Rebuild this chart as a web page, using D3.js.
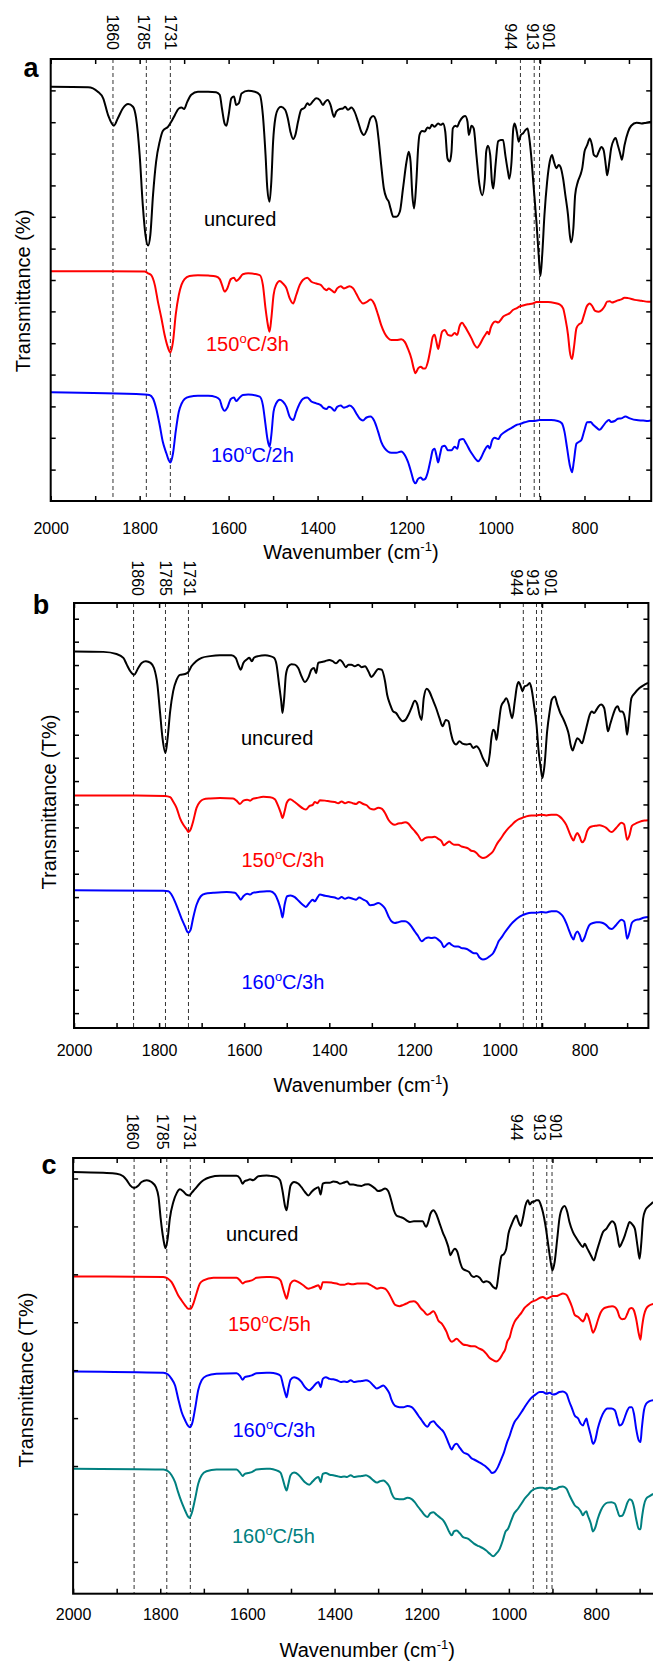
<!DOCTYPE html>
<html lang="en">
<head>
<meta charset="UTF-8">
<title>FTIR spectra</title>
<script src="https://cdn.jsdelivr.net/npm/d3@7/dist/d3.min.js"></script>
<style>
  body { margin: 0; background: #fff; }
  svg { display: block; }
</style>
</head>
<body>
<script>

// peak markers and x ticks (wavenumber, cm-1)
var peaks = [1860, 1785, 1731, 944, 913, 901]
var xMajor = [2000, 1800, 1600, 1400, 1200, 1000, 800]
var xMinor = [1900, 1700, 1500, 1300, 1100, 900, 700]

// unlabeled y ticks (relative transmittance, 0 = bottom, 100 = top of frame)
var yTicksA = [7.1, 14.3, 21.4, 28.6, 35.7, 42.9, 50, 57.1, 64.3, 71.4, 78.6, 85.7, 92.9]
var yTicksB = [3.5, 9.0, 14.4, 19.9, 25.3, 30.8, 36.3, 41.7, 47.2, 52.6, 58.1, 63.6, 69.0, 74.5, 79.9, 85.4, 90.9, 96.3]
var yTicksC = [7.3, 18.3, 29.3, 40.3, 51.3, 62.3, 73.3, 84.3, 95.3]

var labelsA = ["uncured", "150°C/3h", "160°C/2h"]
var labelsB = ["uncured", "150°C/3h", "160°C/3h"]
var labelsC = ["uncured", "150°C/5h", "160°C/3h", "160°C/5h"]

// panel a spectra [wavenumber, T]
var aUncured = [[2000,93.7],[1916,93.6],[1894,92.6],[1882,91.1],[1871,87.3],[1858,84.9],[1849,86.6],[1838,88.8],[1826,89.8],[1815,89.2],[1808,86.6],[1800,78.3],[1793,67.0],[1787,60.2],[1781,57.8],[1776,60.2],[1770,69.2],[1763,76.8],[1755,81.3],[1748,83.7],[1736,84.7],[1729,85.8],[1721,87.3],[1712,88.8],[1706,89.0],[1700,88.7],[1693,90.3],[1684,91.9],[1669,92.6],[1646,92.6],[1628,92.5],[1620,91.9],[1615,88.8],[1609,85.4],[1605,84.9],[1600,87.3],[1594,91.1],[1588,91.5],[1583,89.6],[1577,90.0],[1571,92.2],[1556,92.8],[1541,92.6],[1530,91.9],[1523,87.3],[1517,78.3],[1513,70.7],[1508,67.7],[1504,72.3],[1500,81.3],[1495,86.6],[1488,88.8],[1482,89.2],[1473,88.5],[1467,86.6],[1461,83.5],[1455,81.9],[1450,82.8],[1444,85.8],[1437,88.5],[1429,89.0],[1423,90.0],[1418,89.6],[1410,90.5],[1403,91.1],[1395,90.7],[1388,89.6],[1383,90.3],[1377,90.7],[1371,89.6],[1363,86.9],[1358,88.1],[1350,88.7],[1343,88.8],[1338,89.2],[1332,88.5],[1324,89.0],[1317,88.1],[1309,85.8],[1302,83.6],[1296,82.8],[1288,84.3],[1281,86.6],[1275,87.1],[1268,85.8],[1263,82.0],[1257,76.0],[1251,70.7],[1245,68.5],[1240,67.7],[1236,66.2],[1230,64.3],[1223,64.3],[1215,65.5],[1208,70.7],[1200,76.8],[1195,79.0],[1191,76.8],[1187,69.2],[1183,66.2],[1178,72.2],[1174,79.8],[1171,82.8],[1165,83.7],[1159,83.6],[1153,84.5],[1148,84.3],[1143,85.1],[1137,84.7],[1129,85.4],[1123,85.1],[1118,85.4],[1113,83.6],[1108,77.5],[1103,76.8],[1099,79.0],[1096,84.3],[1090,84.9],[1086,84.7],[1081,85.8],[1073,86.9],[1068,87.1],[1063,85.8],[1060,82.8],[1054,84.9],[1049,84.3],[1043,78.3],[1036,71.5],[1030,69.2],[1024,73.0],[1021,79.0],[1017,80.4],[1012,78.3],[1008,72.2],[1005,70.7],[1000,76.0],[994,81.4],[988,81.7],[983,81.7],[978,78.3],[972,74.5],[969,72.9],[964,76.8],[960,84.3],[957,85.4],[952,83.5],[948,81.3],[943,82.8],[938,83.2],[933,83.9],[928,84.3],[925,82.8],[920,78.3],[914,70.7],[908,63.2],[903,55.7],[899,50.9],[895,55.7],[890,64.7],[884,72.2],[878,76.8],[873,78.3],[869,76.9],[863,75.3],[858,76.0],[854,75.6],[848,72.9],[843,69.2],[837,64.7],[833,60.2],[830,58.5],[825,61.7],[821,69.2],[815,72.2],[809,73.8],[805,75.3],[800,79.0],[794,80.5],[788,82.0],[783,80.5],[779,78.3],[773,77.9],[768,79.0],[762,80.1],[757,79.4],[752,75.9],[749,73.7],[744,76.8],[740,79.8],[734,81.7],[730,82.1],[725,80.5],[719,78.3],[716,77.2],[710,80.5],[702,83.5],[695,84.9],[683,85.6],[672,85.4],[661,85.6],[650,85.8]]
var a150_3h = [[2000,52.0],[1894,52.0],[1789,51.9],[1781,51.5],[1774,51.1],[1766,48.9],[1759,45.1],[1751,41.3],[1744,37.6],[1736,34.6],[1731,33.6],[1725,36.1],[1719,42.1],[1712,46.6],[1706,48.9],[1699,50.2],[1688,50.9],[1669,51.1],[1646,51.0],[1628,50.8],[1620,50.2],[1615,48.9],[1609,47.4],[1603,48.1],[1595,50.2],[1588,50.5],[1583,49.8],[1577,50.2],[1568,51.3],[1556,51.5],[1530,51.1],[1523,48.9],[1517,43.5],[1513,40.6],[1508,38.3],[1504,41.3],[1499,46.6],[1493,48.9],[1485,49.8],[1478,49.2],[1470,48.1],[1463,45.9],[1455,44.7],[1448,46.6],[1440,48.9],[1433,50.0],[1423,50.5],[1414,49.6],[1403,49.2],[1393,48.9],[1386,48.1],[1380,47.7],[1375,48.1],[1369,47.7],[1362,47.2],[1356,48.1],[1348,48.6],[1341,48.1],[1335,48.3],[1328,48.6],[1320,48.1],[1313,46.9],[1305,45.4],[1298,44.7],[1290,45.0],[1281,45.6],[1273,44.7],[1264,42.1],[1257,39.8],[1249,37.9],[1242,36.9],[1234,36.4],[1223,36.4],[1212,36.6],[1204,36.0],[1197,34.5],[1189,32.2],[1184,30.0],[1180,28.9],[1174,30.0],[1168,30.4],[1163,30.0],[1158,30.0],[1152,31.5],[1146,34.5],[1141,37.2],[1137,37.6],[1133,36.1],[1129,34.4],[1125,36.1],[1120,38.3],[1114,38.7],[1107,37.6],[1099,37.4],[1092,38.0],[1086,37.6],[1081,39.5],[1075,40.3],[1069,39.5],[1062,38.3],[1054,36.8],[1047,35.3],[1041,34.7],[1036,35.3],[1028,36.8],[1023,37.6],[1018,38.3],[1015,37.7],[1011,39.1],[1006,40.2],[1000,40.6],[994,40.4],[988,41.0],[983,41.7],[976,42.1],[968,42.5],[961,43.2],[953,43.6],[946,44.0],[936,44.3],[927,44.5],[916,44.7],[908,45.0],[897,45.0],[882,45.0],[867,44.8],[856,44.5],[848,43.6],[843,41.3],[837,37.6],[833,33.8],[828,32.1],[824,34.5],[818,39.1],[812,40.0],[807,40.3],[801,42.1],[795,44.0],[788,44.7],[782,44.0],[776,43.0],[768,42.8],[761,43.2],[755,44.0],[749,45.1],[743,45.2],[738,44.9],[732,45.1],[725,45.4],[717,45.6],[710,46.0],[702,45.9],[687,45.5],[672,45.3],[657,45.1],[650,45.1]]
var a160_2h = [[2000,24.6],[1789,24.1],[1778,24.0],[1770,23.2],[1763,21.0],[1755,17.2],[1748,13.4],[1740,10.8],[1735,9.3],[1731,8.7],[1725,10.8],[1719,15.7],[1712,20.2],[1706,22.0],[1699,23.1],[1688,23.6],[1669,23.8],[1646,23.8],[1628,23.5],[1620,22.9],[1615,21.3],[1609,20.4],[1603,21.1],[1595,23.1],[1588,23.4],[1583,22.6],[1577,23.2],[1568,24.0],[1556,24.1],[1530,23.6],[1523,21.7],[1517,17.2],[1513,14.2],[1508,12.3],[1504,14.9],[1499,20.2],[1493,22.1],[1485,22.9],[1478,22.5],[1470,21.3],[1463,19.1],[1455,18.3],[1448,20.2],[1440,22.1],[1433,23.1],[1423,23.4],[1414,22.5],[1403,22.1],[1393,21.7],[1386,21.0],[1380,20.8],[1375,21.3],[1369,21.1],[1362,20.4],[1356,21.3],[1348,21.6],[1341,21.1],[1335,21.3],[1328,21.6],[1320,21.0],[1313,19.8],[1305,18.6],[1298,18.2],[1290,18.9],[1281,19.1],[1273,18.2],[1264,15.7],[1257,13.4],[1249,11.9],[1242,11.2],[1234,10.9],[1223,10.9],[1212,11.2],[1204,10.4],[1197,8.9],[1189,6.3],[1184,4.5],[1180,4.0],[1174,5.0],[1168,5.3],[1163,4.8],[1158,5.0],[1152,6.6],[1146,9.3],[1141,11.5],[1137,11.8],[1133,10.4],[1129,8.7],[1125,10.4],[1120,12.3],[1114,12.5],[1107,11.5],[1099,11.5],[1092,12.3],[1086,11.8],[1081,13.8],[1073,14.0],[1066,13.0],[1058,11.5],[1051,10.4],[1043,9.3],[1039,9.0],[1033,9.7],[1026,11.2],[1021,12.1],[1017,12.5],[1013,11.9],[1008,13.6],[1002,14.3],[994,14.0],[988,14.9],[981,15.5],[972,16.1],[963,16.6],[953,17.2],[946,17.4],[934,17.8],[923,18.1],[912,18.1],[901,18.3],[890,18.3],[875,18.3],[860,18.1],[851,17.6],[845,15.7],[839,11.9],[833,8.1],[828,6.5],[824,8.9],[818,13.0],[812,13.4],[807,13.8],[800,16.1],[794,17.8],[786,17.9],[781,17.3],[773,16.6],[766,16.1],[758,17.0],[751,17.9],[745,18.3],[740,17.9],[732,18.1],[725,18.6],[717,18.7],[708,19.1],[698,18.7],[683,18.3],[668,18.2],[657,18.1],[650,18.2]]

// panel b spectra
var bUncured = [[2000,88.6],[1931,88.5],[1900,88.0],[1884,87.1],[1876,85.5],[1868,84.0],[1859,83.1],[1849,84.7],[1841,85.9],[1831,86.3],[1820,85.9],[1812,84.7],[1804,80.8],[1798,74.5],[1792,68.2],[1785,64.7],[1780,68.2],[1774,74.5],[1767,79.2],[1759,81.9],[1751,83.1],[1739,83.3],[1731,83.8],[1724,85.1],[1713,86.3],[1700,87.1],[1680,87.5],[1657,87.7],[1630,87.7],[1620,87.1],[1614,85.5],[1608,84.3],[1602,85.9],[1594,86.7],[1588,87.1],[1582,86.3],[1577,87.1],[1567,87.5],[1551,87.7],[1539,87.5],[1530,87.1],[1524,85.5],[1518,80.8],[1513,76.9],[1510,74.1],[1506,77.6],[1502,83.1],[1496,85.1],[1489,85.6],[1481,85.5],[1473,84.7],[1465,82.7],[1457,81.4],[1449,82.5],[1442,84.3],[1436,84.7],[1431,83.5],[1426,85.9],[1418,86.1],[1410,86.3],[1400,86.6],[1392,86.3],[1384,85.8],[1375,86.6],[1369,86.1],[1361,84.9],[1355,85.5],[1348,85.5],[1340,85.1],[1332,85.5],[1324,84.9],[1316,85.1],[1308,83.9],[1301,82.6],[1293,83.5],[1285,84.5],[1277,84.3],[1269,81.6],[1264,78.4],[1257,76.1],[1250,74.5],[1243,74.1],[1235,72.9],[1228,72.2],[1221,72.5],[1214,73.7],[1207,75.3],[1199,77.0],[1193,76.1],[1188,73.7],[1183,72.5],[1178,77.6],[1171,79.8],[1165,79.2],[1157,77.3],[1149,75.3],[1141,72.9],[1134,71.0],[1126,72.5],[1120,72.2],[1115,69.8],[1109,67.5],[1102,66.7],[1094,67.5],[1087,66.9],[1077,66.7],[1069,66.9],[1062,65.9],[1054,66.3],[1047,65.5],[1039,63.5],[1033,62.4],[1029,61.6],[1023,64.3],[1019,68.2],[1015,70.2],[1011,69.8],[1007,67.8],[1002,71.4],[996,75.7],[989,76.9],[984,77.6],[978,76.1],[974,74.1],[970,72.9],[964,76.9],[959,80.4],[955,81.4],[950,80.4],[946,79.2],[941,80.4],[935,80.6],[929,81.2],[925,80.0],[919,76.1],[913,71.4],[908,65.1],[903,61.2],[899,58.8],[894,62.0],[888,69.8],[882,74.5],[877,77.3],[870,78.0],[864,76.1],[857,74.1],[851,72.9],[843,71.0],[837,69.0],[833,66.7],[828,65.3],[823,66.7],[817,68.2],[812,67.8],[806,67.0],[800,69.0],[794,71.4],[788,73.7],[783,74.5],[778,74.1],[772,74.9],[767,75.7],[761,76.1],[754,75.3],[749,72.2],[745,69.8],[740,71.4],[733,73.7],[727,75.3],[722,75.7],[717,74.5],[712,74.5],[707,73.7],[704,72.2],[700,69.0],[696,72.2],[690,77.6],[682,78.8],[671,80.0],[659,80.8],[651,81.2]]
var b150_3h = [[2000,54.7],[1853,54.7],[1786,54.6],[1774,54.3],[1767,53.3],[1759,51.8],[1751,49.4],[1743,47.8],[1735,46.7],[1731,46.1],[1726,46.7],[1720,48.6],[1712,51.8],[1704,53.2],[1696,53.8],[1680,54.0],[1657,54.1],[1626,54.0],[1618,53.5],[1610,52.7],[1602,53.5],[1593,53.7],[1586,53.5],[1580,53.9],[1571,54.1],[1555,54.4],[1539,54.3],[1528,53.8],[1520,52.2],[1514,50.6],[1510,49.4],[1505,51.0],[1500,53.0],[1492,53.8],[1483,53.3],[1473,52.5],[1461,51.6],[1455,51.4],[1447,52.2],[1439,52.5],[1434,53.2],[1428,52.9],[1422,53.6],[1410,53.5],[1398,53.3],[1387,53.2],[1379,52.9],[1371,53.3],[1363,52.9],[1355,53.2],[1345,52.9],[1337,52.7],[1330,53.2],[1320,52.7],[1312,52.4],[1304,51.6],[1295,51.4],[1285,51.8],[1277,51.6],[1269,50.6],[1261,49.0],[1254,48.2],[1246,47.8],[1238,48.1],[1230,48.2],[1222,48.4],[1214,48.1],[1207,47.2],[1199,46.3],[1191,45.3],[1183,44.1],[1175,44.7],[1167,44.9],[1160,44.9],[1152,45.0],[1144,44.5],[1136,43.9],[1131,43.0],[1124,43.5],[1118,43.9],[1113,43.5],[1105,43.1],[1097,43.1],[1089,42.7],[1081,42.5],[1073,42.2],[1066,41.7],[1060,41.6],[1054,41.2],[1047,40.4],[1039,40.0],[1031,40.2],[1023,40.8],[1015,41.6],[1007,43.1],[1002,43.9],[996,44.7],[988,45.9],[980,46.9],[972,47.7],[964,48.5],[957,49.0],[947,49.4],[937,49.8],[925,50.0],[913,50.0],[902,50.2],[890,50.0],[878,50.2],[866,50.2],[859,49.8],[851,49.0],[843,47.8],[837,46.3],[831,44.9],[826,44.1],[822,45.1],[817,45.9],[812,45.1],[806,43.7],[800,44.3],[794,46.3],[788,47.2],[780,47.5],[772,47.6],[765,47.7],[757,47.5],[749,47.1],[741,46.3],[736,46.1],[729,46.7],[722,47.5],[714,48.3],[707,47.9],[704,46.3],[700,44.3],[694,45.5],[689,47.5],[682,48.0],[671,48.5],[659,48.8],[651,48.9]]
var b160_3h = [[2000,32.4],[1790,32.3],[1778,32.2],[1771,31.4],[1763,29.8],[1755,27.8],[1747,25.7],[1739,23.9],[1734,22.7],[1731,22.5],[1726,23.1],[1720,25.9],[1712,29.0],[1702,31.0],[1692,31.6],[1673,31.8],[1641,32.0],[1622,31.8],[1614,31.0],[1608,30.2],[1602,31.0],[1593,31.6],[1586,31.4],[1580,31.8],[1567,32.0],[1547,32.2],[1539,32.2],[1528,31.5],[1520,29.8],[1514,27.8],[1510,26.0],[1505,29.0],[1499,31.0],[1491,31.2],[1481,30.8],[1471,29.8],[1461,28.9],[1455,28.5],[1447,29.4],[1439,30.2],[1434,29.8],[1428,30.7],[1422,31.4],[1410,31.1],[1398,30.9],[1387,30.7],[1379,30.4],[1371,30.8],[1363,30.4],[1355,30.7],[1345,30.4],[1337,30.2],[1330,30.7],[1320,30.2],[1312,29.8],[1304,28.9],[1295,29.0],[1285,29.4],[1277,29.0],[1269,28.1],[1261,26.3],[1254,25.1],[1246,24.7],[1238,24.9],[1230,25.1],[1222,25.1],[1214,24.7],[1207,23.9],[1199,22.7],[1191,21.6],[1183,20.4],[1175,21.0],[1167,21.3],[1160,21.2],[1152,21.3],[1144,20.8],[1136,20.0],[1131,19.0],[1124,19.6],[1118,20.0],[1113,19.6],[1105,19.2],[1097,19.2],[1089,18.8],[1081,18.7],[1073,18.4],[1066,17.9],[1060,17.6],[1054,17.6],[1047,16.6],[1039,16.1],[1031,16.3],[1023,16.9],[1015,17.6],[1007,19.2],[1002,20.4],[996,21.2],[988,22.4],[980,23.5],[972,24.5],[964,25.3],[957,25.9],[947,26.5],[937,26.9],[925,27.1],[913,27.1],[902,27.3],[890,27.2],[878,27.5],[866,27.5],[859,27.1],[851,26.3],[843,24.7],[837,23.1],[831,21.6],[826,20.8],[822,22.0],[817,22.7],[812,22.0],[806,20.4],[800,21.3],[794,23.1],[788,24.3],[780,24.7],[772,24.9],[765,24.9],[757,24.7],[749,24.2],[741,23.4],[736,23.3],[729,23.9],[722,24.7],[714,25.5],[707,25.1],[704,23.5],[700,21.0],[694,22.7],[689,24.7],[682,25.3],[671,25.6],[659,26.0],[651,26.1]]

// panel c spectra
var cUncured = [[2000,96.8],[1931,96.6],[1900,96.4],[1885,95.8],[1877,94.9],[1869,93.7],[1860,93.1],[1850,93.7],[1843,94.5],[1831,94.9],[1820,94.5],[1810,93.3],[1804,91.1],[1799,86.1],[1793,81.5],[1788,79.3],[1783,81.5],[1778,86.1],[1770,89.9],[1762,92.0],[1755,92.8],[1747,92.3],[1740,91.6],[1733,91.4],[1728,92.0],[1720,92.9],[1710,94.1],[1701,94.9],[1686,95.6],[1663,95.9],[1625,95.9],[1617,95.3],[1611,94.1],[1606,94.7],[1600,94.9],[1594,95.1],[1587,94.9],[1575,95.8],[1556,96.0],[1548,95.9],[1533,95.6],[1525,94.9],[1519,92.2],[1514,89.1],[1510,88.0],[1506,90.6],[1501,93.7],[1493,94.5],[1483,94.1],[1476,93.3],[1468,92.2],[1460,91.4],[1453,92.2],[1445,92.9],[1437,93.3],[1432,91.6],[1427,94.1],[1420,94.3],[1411,94.3],[1403,94.6],[1395,94.5],[1388,94.1],[1380,94.3],[1371,94.6],[1365,93.9],[1357,93.9],[1348,93.7],[1338,93.6],[1330,93.9],[1323,94.0],[1315,93.6],[1307,93.0],[1300,92.4],[1292,92.6],[1284,93.0],[1277,92.4],[1269,89.9],[1264,88.0],[1258,86.8],[1250,86.5],[1242,86.2],[1235,85.7],[1227,85.3],[1218,85.5],[1208,85.5],[1198,85.5],[1190,84.2],[1185,85.3],[1180,87.2],[1173,88.0],[1167,87.2],[1160,85.3],[1152,83.0],[1144,81.1],[1139,79.6],[1134,77.7],[1129,78.6],[1124,79.2],[1118,78.4],[1112,76.1],[1106,74.6],[1099,74.2],[1091,73.8],[1086,73.0],[1080,72.7],[1075,72.9],[1067,72.5],[1059,71.5],[1052,71.7],[1044,71.4],[1036,70.4],[1029,70.0],[1025,72.3],[1021,75.4],[1017,77.5],[1011,78.0],[1006,79.2],[1001,82.6],[994,84.7],[988,86.1],[983,86.8],[979,85.7],[973,84.4],[968,86.1],[962,89.1],[956,90.3],[952,89.3],[947,89.9],[942,90.0],[937,90.3],[932,90.3],[927,89.3],[922,87.6],[916,84.5],[910,80.3],[904,76.1],[900,74.2],[895,76.1],[889,81.5],[884,86.1],[878,88.4],[872,89.0],[866,87.6],[861,85.3],[853,83.0],[845,81.6],[838,80.5],[830,79.6],[826,80.3],[820,79.2],[812,77.7],[805,76.5],[799,78.4],[792,80.7],[784,83.0],[776,83.8],[769,84.9],[763,85.5],[757,84.9],[751,82.2],[746,79.6],[740,80.7],[734,82.2],[728,84.1],[723,85.3],[718,84.9],[711,83.8],[705,79.9],[700,76.9],[696,80.7],[692,86.1],[687,88.0],[681,88.8],[673,89.5],[669,89.9]]
var c150_5h = [[2000,72.8],[1793,72.7],[1782,72.3],[1774,71.5],[1766,70.0],[1759,68.5],[1751,67.3],[1743,66.2],[1736,65.4],[1730,65.4],[1724,66.6],[1716,69.2],[1709,71.2],[1701,71.9],[1678,72.5],[1625,72.5],[1617,71.9],[1611,71.2],[1606,71.5],[1598,71.7],[1590,71.9],[1579,72.5],[1556,72.7],[1548,72.7],[1533,72.5],[1524,71.9],[1518,70.0],[1512,68.1],[1510,67.7],[1506,69.2],[1501,71.2],[1493,71.9],[1483,71.5],[1472,70.8],[1460,70.0],[1453,70.2],[1445,70.5],[1437,70.8],[1432,69.9],[1427,71.5],[1418,71.5],[1407,71.4],[1395,71.2],[1386,70.9],[1378,70.9],[1369,71.2],[1359,71.0],[1348,71.2],[1338,71.2],[1326,71.2],[1317,70.8],[1310,70.4],[1302,70.0],[1294,70.2],[1284,70.0],[1277,69.2],[1269,67.7],[1261,66.3],[1251,66.0],[1242,66.3],[1235,66.6],[1227,67.0],[1218,67.1],[1210,66.6],[1203,65.6],[1195,64.8],[1187,64.0],[1181,64.3],[1173,64.8],[1167,63.9],[1162,62.7],[1154,62.0],[1149,61.2],[1143,60.1],[1137,58.5],[1131,57.8],[1126,58.1],[1120,58.5],[1112,57.8],[1105,57.2],[1095,57.0],[1086,56.8],[1079,56.8],[1069,56.3],[1059,55.8],[1052,55.1],[1044,54.1],[1036,53.6],[1029,53.3],[1021,53.9],[1014,55.1],[1008,56.2],[1004,57.8],[998,58.9],[993,60.8],[987,62.4],[979,63.5],[971,64.5],[964,65.6],[956,66.3],[949,66.9],[939,67.3],[929,67.9],[922,68.1],[914,67.7],[906,68.0],[899,68.3],[891,68.3],[884,68.6],[876,68.9],[868,68.6],[861,67.3],[855,65.8],[849,64.0],[841,63.5],[835,62.9],[830,62.5],[826,63.1],[822,64.3],[819,63.9],[812,61.6],[807,59.9],[802,60.8],[796,62.7],[789,64.6],[782,65.5],[773,65.8],[763,66.0],[757,65.8],[751,65.0],[746,63.5],[740,63.0],[734,63.1],[728,64.3],[723,65.4],[718,65.6],[713,65.0],[708,63.1],[702,59.7],[698,58.3],[695,60.8],[690,63.9],[685,65.4],[677,66.2],[669,66.5]]
var c160_3h = [[2000,51.0],[1793,50.7],[1782,50.3],[1774,49.3],[1766,47.8],[1759,44.8],[1751,41.7],[1743,39.8],[1736,38.5],[1732,38.2],[1727,39.0],[1720,42.5],[1713,46.7],[1705,49.0],[1694,50.0],[1671,50.5],[1625,50.6],[1617,50.0],[1611,49.1],[1606,49.7],[1598,49.9],[1590,50.1],[1579,50.6],[1556,50.7],[1548,50.7],[1533,50.5],[1524,50.0],[1518,47.8],[1513,45.9],[1510,45.1],[1506,47.1],[1501,49.1],[1493,49.7],[1483,49.3],[1476,48.6],[1468,47.4],[1458,46.7],[1450,47.4],[1443,48.2],[1437,48.6],[1432,47.4],[1427,49.3],[1420,49.7],[1411,49.3],[1403,49.2],[1395,49.0],[1386,48.6],[1378,48.7],[1371,48.6],[1363,49.0],[1356,48.6],[1348,48.7],[1338,48.8],[1328,49.0],[1320,48.7],[1311,47.8],[1303,47.1],[1296,47.4],[1288,47.8],[1281,47.1],[1274,45.9],[1269,44.4],[1261,43.1],[1251,42.8],[1242,42.8],[1233,43.1],[1223,42.8],[1216,42.1],[1208,40.9],[1200,39.8],[1193,38.8],[1187,38.3],[1180,39.3],[1173,39.6],[1166,38.8],[1157,37.9],[1149,37.0],[1143,35.7],[1137,34.2],[1131,33.1],[1126,34.0],[1120,34.4],[1112,33.4],[1105,32.5],[1093,31.9],[1086,31.1],[1080,30.8],[1069,30.2],[1059,29.6],[1052,29.1],[1044,28.3],[1039,27.7],[1033,27.9],[1025,29.1],[1017,31.0],[1011,32.5],[1004,34.8],[998,36.3],[993,37.9],[987,39.4],[979,40.5],[971,41.7],[964,42.8],[956,44.0],[949,44.9],[939,45.7],[929,46.3],[922,46.3],[914,45.9],[906,46.1],[899,45.7],[891,45.9],[884,46.3],[876,46.4],[868,45.9],[861,44.0],[855,42.5],[849,40.9],[841,40.2],[835,39.0],[830,38.6],[826,39.5],[822,40.2],[819,39.0],[812,36.3],[807,34.4],[802,35.2],[796,37.9],[789,40.2],[782,41.7],[774,42.5],[765,42.5],[757,42.1],[751,40.2],[746,38.6],[740,39.0],[734,40.5],[728,42.1],[723,42.8],[718,42.8],[713,41.3],[708,37.9],[702,35.2],[698,34.8],[695,37.9],[690,42.1],[685,43.6],[677,44.2],[669,44.4]]
var c160_5h = [[2000,28.7],[1793,28.5],[1782,28.1],[1774,27.2],[1766,25.6],[1759,23.3],[1751,21.0],[1743,19.1],[1738,18.0],[1733,17.4],[1728,18.4],[1720,21.8],[1713,25.2],[1705,27.2],[1694,28.1],[1671,28.5],[1625,28.5],[1617,27.8],[1611,27.0],[1606,27.5],[1598,27.7],[1590,27.9],[1579,28.5],[1556,28.7],[1548,28.7],[1533,28.3],[1524,27.8],[1518,26.0],[1513,24.3],[1510,23.7],[1506,25.2],[1501,27.2],[1493,27.8],[1483,27.3],[1476,26.5],[1468,25.6],[1458,25.0],[1450,25.8],[1443,26.5],[1437,26.8],[1432,25.6],[1427,27.5],[1420,27.7],[1411,27.3],[1403,27.2],[1395,27.0],[1386,26.8],[1378,26.9],[1371,26.8],[1363,27.2],[1356,26.8],[1348,26.9],[1338,27.0],[1328,27.2],[1320,26.8],[1311,26.0],[1303,25.5],[1296,25.8],[1288,26.0],[1281,25.5],[1274,24.5],[1269,23.0],[1261,21.8],[1251,21.7],[1242,21.7],[1233,22.0],[1223,21.7],[1216,21.0],[1208,19.9],[1200,18.9],[1193,18.0],[1187,17.6],[1180,18.5],[1173,18.7],[1166,18.1],[1157,17.4],[1149,16.6],[1143,15.5],[1137,14.2],[1131,13.4],[1126,14.3],[1120,14.5],[1112,13.8],[1105,13.0],[1093,12.6],[1086,12.0],[1080,11.5],[1069,10.9],[1059,10.4],[1052,9.9],[1044,9.2],[1036,8.6],[1029,9.2],[1021,10.3],[1014,12.2],[1008,14.2],[1002,14.9],[996,16.4],[988,18.4],[979,19.5],[971,20.7],[964,21.8],[956,22.7],[949,23.5],[939,24.1],[929,24.3],[922,24.3],[914,24.1],[906,24.3],[899,24.0],[891,24.1],[884,24.5],[876,24.6],[868,24.1],[861,22.6],[855,21.4],[849,20.3],[841,19.7],[835,18.9],[830,18.0],[826,18.6],[822,18.9],[819,18.0],[812,16.1],[807,14.3],[802,15.1],[796,17.2],[789,19.1],[782,20.3],[774,20.9],[765,21.0],[757,20.7],[751,19.1],[746,17.8],[740,17.9],[734,19.1],[728,20.9],[723,21.7],[718,21.4],[713,19.9],[708,17.2],[702,14.9],[698,14.8],[695,17.2],[690,20.3],[685,21.8],[677,22.4],[669,22.9]]

var colors = ["#000000", "#ff0000", "#0000ff", "#008080"]
var font = "Arial, 'Liberation Sans', Helvetica, sans-serif"

// layout of the three stacked panels (pixel positions)
var panels = [
    {letter: "a", lx: 31, ly: 77, x0: 50.7, x1: 651.2, yb: 501, yt: 59,
     series: [aUncured, a150_3h, a160_2h], labels: labelsA, yTicks: yTicksA,
     labelPos: [[204, 219], [206, 344], [211, 455]],
     ytitle: "Transmittance (%)", ytx: 23, yty: 291, tickPad: 22, xty: 552,
     peakAnchor: "end", peakY: 50, peakDx: [0, -2.5, 0.5, -10, -2, 9.5]},
    {letter: "b", lx: 41, ly: 614, x0: 74, x1: 648.4, yb: 1028, yt: 603,
     series: [bUncured, b150_3h, b160_3h], labels: labelsB, yTicks: yTicksB,
     labelPos: [[241, 738], [241.5, 860], [241.5, 982]],
     ytitle: "Transmittance (T%)", ytx: 49, yty: 802, tickPad: 17, xty: 1084.6,
     peakAnchor: "end", peakY: 596, peakDx: [4, 0.5, 1, -7, -3.5, 9.5]},
    {letter: "c", lx: 49, ly: 1174, x0: 73.1, x1: 661.4, yb: 1593.7, yt: 1158,
     series: [cUncured, c150_5h, c160_3h, c160_5h], labels: labelsC, yTicks: yTicksC,
     labelPos: [[226, 1234], [228, 1324], [232.5, 1430], [232, 1536]],
     ytitle: "Transmittance (T%)", ytx: 26, yty: 1380, tickPad: 15.5, xty: 1650,
     peakAnchor: "start", peakY: 1114, peakDx: [-1, -4, -0.5, -16.6, -7.2, 4]}
]

var svg = d3.select("body").append("svg")
    .attr("width", 653)
    .attr("height", 1664)
    .attr("viewBox", [0, 0, 653, 1664])
    .style("font-family", font)

svg.append("rect").attr("width", 653).attr("height", 1664).attr("fill", "white")

function labelText(sel, txt, size) {
    // "150°C/3h" -> 150, raised small o, C/3h
    var parts = txt.split("°")
    sel.append("tspan").text(parts[0])
    if (parts.length > 1) {
        sel.append("tspan").attr("dy", -size * 0.42).attr("font-size", size * 0.65).text("o")
        sel.append("tspan").attr("dy", size * 0.42).text(parts[1])
    }
}

panels.forEach(function (p) {
    var g = svg.append("g")
    var x = d3.scaleLinear().domain([2000, 650]).range([p.x0, p.x1])
    var y = d3.scaleLinear().domain([0, 100]).range([p.yb, p.yt])

    var clipId = "clip_" + p.letter
    g.append("clipPath").attr("id", clipId)
        .append("rect").attr("x", p.x0).attr("y", p.yt)
        .attr("width", p.x1 - p.x0).attr("height", p.yb - p.yt)

    // dashed peak markers
    g.selectAll(".peak").data(peaks).enter().append("line")
        .attr("class", "peak")
        .attr("x1", d => x(d)).attr("x2", d => x(d))
        .attr("y1", p.yt).attr("y2", p.yb)
        .attr("stroke", "#333").attr("stroke-width", 1)
        .attr("stroke-dasharray", "4,3")

    g.selectAll(".peaklab").data(peaks).enter().append("text")
        .attr("class", "peaklab")
        .attr("transform", (d, i) => "translate(" + (x(d) + p.peakDx[i]) + "," + p.peakY + ") rotate(90)")
        .attr("text-anchor", p.peakAnchor)
        .attr("dy", "0.35em")
        .attr("font-size", 16)
        .text(d => d)

    // spectra
    var line = d3.line()
        .x(d => x(d[0]))
        .y(d => y(d[1]))
        .curve(d3.curveMonotoneX)

    g.append("g").attr("clip-path", "url(#" + clipId + ")")
        .selectAll("path").data(p.series).enter().append("path")
        .attr("d", line)
        .attr("fill", "none")
        .attr("stroke", (d, i) => colors[i])
        .attr("stroke-width", 2)
        .attr("stroke-linejoin", "round")

    // curve labels
    p.labels.forEach(function (lab, i) {
        var t = g.append("text")
            .attr("x", p.labelPos[i][0])
            .attr("y", p.labelPos[i][1] + 7)
            .attr("font-size", 20)
            .attr("fill", colors[i])
        labelText(t, lab, 20)
    })

    // axes, ticks pointing inward
    var allX = xMajor.concat(xMinor)
    var bottom = g.append("g").attr("transform", "translate(0," + p.yb + ")")
        .call(d3.axisBottom(x).tickValues(allX).tickSize(-5).tickPadding(p.tickPad)
            .tickFormat(d => xMajor.indexOf(d) >= 0 ? d : ""))
    var top = g.append("g").attr("transform", "translate(0," + p.yt + ")")
        .call(d3.axisTop(x).tickValues(allX).tickSize(-5).tickFormat(""))
    var left = g.append("g").attr("transform", "translate(" + p.x0 + ",0)")
        .call(d3.axisLeft(y).tickValues(p.yTicks).tickSize(-5).tickFormat(""))
    var right = g.append("g").attr("transform", "translate(" + p.x1 + ",0)")
        .call(d3.axisRight(y).tickValues(p.yTicks).tickSize(-5).tickFormat(""))

    ;[bottom, top, left, right].forEach(function (a) {
        a.select(".domain").remove()
        a.selectAll(".tick line").attr("stroke", "#000").attr("stroke-width", 1.5)
        a.attr("font-family", font).attr("font-size", 16)
    })
    bottom.selectAll(".tick text").attr("fill", "#000").attr("dy", "0.35em")
        .attr("y", p.tickPad + 5.5)

    g.append("rect")
        .attr("x", p.x0).attr("y", p.yt)
        .attr("width", p.x1 - p.x0).attr("height", p.yb - p.yt)
        .attr("fill", "none").attr("stroke", "#000").attr("stroke-width", 2)

    // titles
    var xt = g.append("text")
        .attr("x", (p.x0 + p.x1) / 2).attr("y", p.xty + 7)
        .attr("text-anchor", "middle").attr("font-size", 20)
    xt.append("tspan").text("Wavenumber (cm")
    xt.append("tspan").attr("dy", -8).attr("font-size", 13).text("-1")
    xt.append("tspan").attr("dy", 8).text(")")

    g.append("text")
        .attr("transform", "translate(" + p.ytx + "," + p.yty + ") rotate(-90)")
        .attr("text-anchor", "middle").attr("dy", "0.35em")
        .attr("font-size", 20)
        .text(p.ytitle)

    g.append("text")
        .attr("x", p.lx).attr("y", p.ly)
        .attr("text-anchor", "middle")
        .attr("font-size", 27).attr("font-weight", "bold")
        .text(p.letter)
})

</script>
</body>
</html>
